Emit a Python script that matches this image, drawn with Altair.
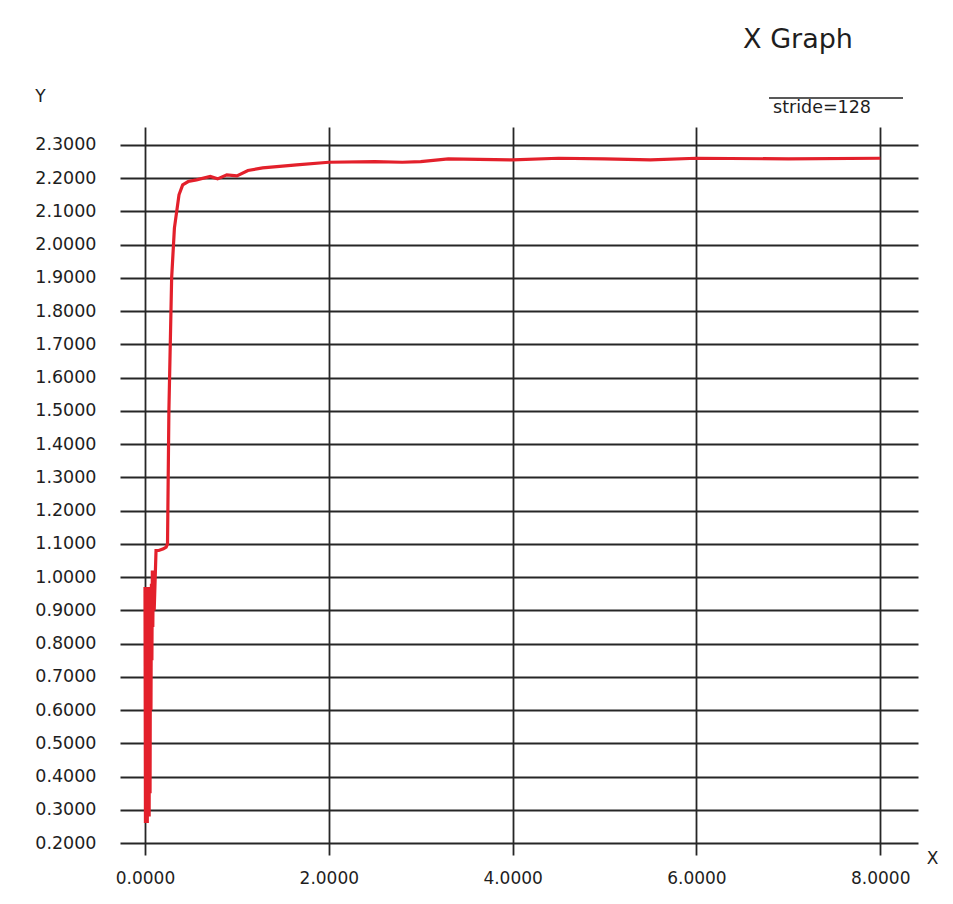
import altair as alt
import pandas as pd

# Data
x_vals = [0.000, 0.005, 0.010, 0.015, 0.020, 0.025, 0.030, 0.035, 0.040, 0.045,
          0.050, 0.055, 0.060, 0.065, 0.070, 0.075, 0.080, 0.085, 0.090, 0.100,
          0.120, 0.150, 0.200, 0.230, 0.245, 0.26, 0.29, 0.32, 0.37, 0.41, 0.47,
          0.56, 0.71, 0.79, 0.89, 1.00, 1.12, 1.28, 1.65, 2.00, 2.50, 2.80, 3.00,
          3.30, 4.00, 4.50, 5.00, 5.50, 6.00, 7.00, 8.00]
y_vals = [0.97, 0.26, 0.96, 0.27, 0.95, 0.26, 0.97, 0.30, 0.96, 0.28, 0.97, 0.35,
          0.96, 0.60, 0.98, 0.75, 1.02, 0.85, 1.02, 0.90, 1.08, 1.08, 1.085, 1.09,
          1.10, 1.50, 1.90, 2.05, 2.15, 2.18, 2.19, 2.195, 2.205, 2.198, 2.21,
          2.207, 2.223, 2.231, 2.240, 2.248, 2.250, 2.248, 2.250, 2.258, 2.255,
          2.260, 2.258, 2.255, 2.260, 2.258, 2.260]
x_ticks = [0.0, 2.0, 4.0, 6.0, 8.0]
y_ticks = [round(0.2 + 0.1 * i, 1) for i in range(22)]
title_text = ["X Graph"]
legend_text = ["stride=128"]

FONT = "DejaVu Sans"
GRID = "#262626"

df = pd.DataFrame({"x": x_vals, "y": y_vals, "i": list(range(len(x_vals)))})

W, H = 798, 728

line = alt.Chart(df).mark_line(color="#e3202b", strokeWidth=3.2).encode(
    x=alt.X("x:Q",
            scale=alt.Scale(domain=[-0.272, 8.411], nice=False, zero=False),
            axis=alt.Axis(values=x_ticks, format=".4f", grid=True, gridColor=GRID,
                          gridWidth=1.8, gridOpacity=1, domain=False, ticks=False,
                          labelFont=FONT, labelFontSize=17, labelColor="#1e1e1e",
                          labelPadding=15, title="X", titleFont=FONT,
                          titleFontSize=17, titleFontWeight="normal",
                          titleColor="#1e1e1e", titleX=812, titleY=3,
                          titleAlign="center", titleBaseline="middle")),
    y=alt.Y("y:Q",
            scale=alt.Scale(domain=[0.164, 2.354], nice=False, zero=False),
            axis=alt.Axis(values=y_ticks, format=".4f", grid=True, gridColor=GRID,
                          gridWidth=1.8, gridOpacity=1, domain=False, ticks=False,
                          labelFont=FONT, labelFontSize=17.5, labelColor="#1e1e1e",
                          labelPadding=24, title="Y", titleFont=FONT,
                          titleFontSize=17, titleFontWeight="normal",
                          titleColor="#1e1e1e", titleAngle=0, titleX=-80, titleY=-31,
                          titleAlign="center", titleBaseline="middle")),
    order=alt.Order("i:Q"),
)

title = alt.Chart(pd.DataFrame({"t": title_text})).mark_text(
    font=FONT, fontSize=27, color="#1e1e1e", align="center", baseline="middle"
).encode(x=alt.value(678), y=alt.value(-87), text="t:N")

legend_line = alt.Chart(pd.DataFrame({"t": legend_text})).mark_rule(
    color="#222", strokeWidth=1.5
).encode(x=alt.value(649), x2=alt.value(783), y=alt.value(-29))

legend_label = alt.Chart(pd.DataFrame({"t": legend_text})).mark_text(
    font=FONT, fontSize=17.5, color="#1e1e1e", align="center", baseline="middle"
).encode(x=alt.value(702), y=alt.value(-19), text="t:N")

chart = alt.layer(line, title, legend_line, legend_label).properties(
    width=W, height=H,
    autosize=alt.AutoSizeParams(type="none"),
    padding={"left": 112, "top": 119, "right": 27, "bottom": 40},
    background="white",
).configure_view(stroke=None)

chart.save("out.html", embed_options={"renderer": "svg", "actions": False})
